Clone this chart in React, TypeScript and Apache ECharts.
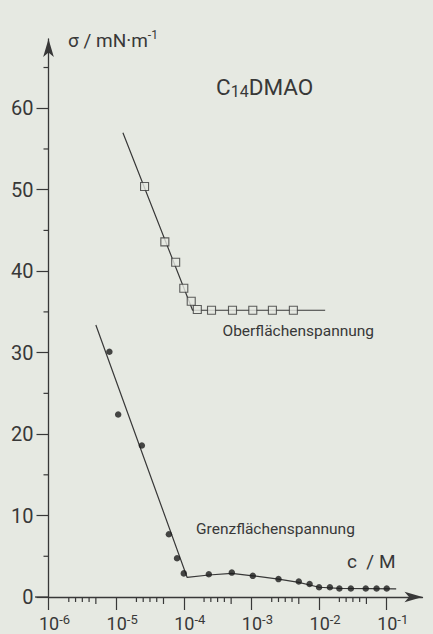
import React, { useEffect, useRef } from 'react';
import * as echarts from 'echarts';

const BG = '#e6e9e2';
const INK = '#383838';
const FONT = 'Roboto, "DejaVu Sans", sans-serif';

// concentration values given as log10(c / M), surface tension sigma in mN/m
const upperLogC = [-4.58, -4.28, -4.12, -4.0, -3.89, -3.8, -3.59, -3.28, -2.98, -2.69, -2.38];
const upperSigma = [50.4, 43.6, 41.1, 37.9, 36.3, 35.3, 35.2, 35.2, 35.2, 35.2, 35.2];
const upperFitLogC = [-4.9, -3.87, -1.91];
const upperFitSigma = [57.0, 35.2, 35.2];

const lowerLogC = [-5.1, -4.97, -4.62, -4.22, -4.1, -4.0, -3.63, -3.29, -2.98, -2.6, -2.3, -2.14, -2.0, -1.84, -1.7, -1.53, -1.31, -1.15, -1.0];
const lowerSigma = [30.1, 22.4, 18.6, 7.7, 4.75, 2.9, 2.8, 3.0, 2.6, 2.2, 1.9, 1.6, 1.2, 1.2, 1.05, 1.05, 1.05, 1.05, 1.05];
const lowerFitLogC = [-5.3, -3.95, -3.63, -3.29, -2.98, -2.6, -2.3, -2.0, -1.7, -0.86];
const lowerFitSigma = [33.4, 2.4, 2.7, 2.9, 2.6, 2.2, 1.8, 1.2, 1.05, 1.0];

const xDecades = [-6, -5, -4, -3, -2, -1];
const xMinorDecades = [-6, -5, -4, -3, -2];
const xMinorFractions = [0.3, 0.4, 0.5, 0.6, 0.7];
const yMajorTicks = [0, 10, 20, 30, 40, 50, 60];
const yMinorTicks = [5, 15, 25, 35, 45, 55, 65];

const Y_MAX = 68.5;
const X_MAX_LOG = -0.471;

export default function App() {
  const ref = useRef<HTMLDivElement>(null);

  useEffect(() => {
    if (!ref.current) return;
    const chart = echarts.init(ref.current, null, { renderer: 'svg' });

    const pts = (lx: number[], ys: number[]) => lx.map((l, i) => [Math.pow(10, l), ys[i]]);

    const tickData: number[][] = [];
    xMinorDecades.forEach((d) => {
      xMinorFractions.forEach((f) => {
        tickData.push([Math.pow(10, d + f), 0, f === 0.7 ? 7 : 5, 0]);
      });
    });
    yMinorTicks.forEach((v) => tickData.push([1e-6, v, 5, 1]));

    const xMajor = xDecades.map((d) => Math.pow(10, d));

    chart.setOption({
      animation: false,
      backgroundColor: BG,
      grid: { left: 48.5, top: 39, right: 10.5, bottom: 37 },
      xAxis: {
        type: 'log',
        logBase: 10,
        min: 1e-6,
        max: Math.pow(10, X_MAX_LOG),
        splitLine: { show: false },
        axisLine: {
          show: true,
          lineStyle: { color: INK, width: 1.3 },
          symbol: ['none', 'arrow'],
          symbolSize: [8, 18],
        },
        axisTick: { show: true, length: 13, lineStyle: { color: INK, width: 1.2 }, customValues: xMajor },
        minorTick: { show: false },
        axisLabel: {
          customValues: xMajor,
          margin: 16,
          padding: [0, 0, 0, 12],
          formatter: (v: number) => `{b|10}{s|${Math.round(Math.log10(v))}}`,
          rich: {
            b: { fontSize: 18, fontFamily: FONT, color: INK, lineHeight: 20 },
            s: { fontSize: 13, fontFamily: FONT, color: INK, lineHeight: 2, verticalAlign: 'top' },
          },
        },
      },
      yAxis: {
        type: 'value',
        min: 0,
        max: Y_MAX,
        splitLine: { show: false },
        axisLine: {
          show: true,
          lineStyle: { color: INK, width: 1.3 },
          symbol: ['none', 'arrow'],
          symbolSize: [8, 18],
        },
        axisTick: { show: true, length: 12, lineStyle: { color: INK, width: 1.2 }, customValues: yMajorTicks },
        axisLabel: {
          customValues: yMajorTicks,
          margin: 15,
          fontSize: 20,
          fontFamily: FONT,
          color: INK,
        },
      },
      graphic: [
        { type: 'line', shape: { x1: 35, y1: 597, x2: 49, y2: 597 }, style: { stroke: INK, lineWidth: 1.3 } },
        {
          type: 'text',
          x: 68,
          y: 29,
          style: {
            text: '{m|σ / mN·m}{s|-1}',
            verticalAlign: 'top',
            rich: {
              m: { fontSize: 19, fontFamily: FONT, fill: INK, lineHeight: 22 },
              s: { fontSize: 12, fontFamily: FONT, fill: INK, lineHeight: 16, verticalAlign: 'top' },
            },
          },
        },
        {
          type: 'text',
          x: 216,
          y: 75.5,
          style: {
            text: '{a|C}{b|14}{a|DMAO}',
            verticalAlign: 'top',
            rich: {
              a: { fontSize: 22.5, fontFamily: FONT, fill: INK, lineHeight: 24, verticalAlign: 'top' },
              b: { fontSize: 16, fontFamily: FONT, fill: INK, lineHeight: 16, verticalAlign: 'bottom' },
            },
          },
        },
        {
          type: 'text',
          x: 347,
          y: 561.5,
          style: { text: 'c  / M', font: `19px ${FONT}`, fill: INK, verticalAlign: 'middle' },
        },
        {
          type: 'text',
          x: 222.5,
          y: 331,
          style: { text: 'Oberflächenspannung', font: `15.5px ${FONT}`, fill: INK, verticalAlign: 'middle' },
        },
        {
          type: 'text',
          x: 196,
          y: 528.5,
          style: { text: 'Grenzflächenspannung', font: `15.5px ${FONT}`, fill: INK, verticalAlign: 'middle' },
        },
      ],
      series: [
        {
          type: 'line',
          data: pts(upperFitLogC, upperFitSigma),
          showSymbol: false,
          lineStyle: { color: INK, width: 1.2 },
          z: 2,
        },
        {
          type: 'line',
          data: pts(lowerFitLogC, lowerFitSigma),
          showSymbol: false,
          lineStyle: { color: INK, width: 1.2 },
          z: 2,
        },
        {
          type: 'scatter',
          data: pts(upperLogC, upperSigma),
          symbol: 'rect',
          symbolSize: 8,
          itemStyle: { color: BG, borderColor: INK, borderWidth: 1.1 },
          z: 3,
        },
        {
          type: 'scatter',
          data: pts(lowerLogC, lowerSigma),
          symbol: 'circle',
          symbolSize: 6.5,
          itemStyle: { color: '#1c1c1c' },
          z: 3,
        },
        {
          type: 'custom',
          clip: false,
          data: tickData,
          renderItem: (params: any, api: any) => {
            const p = api.coord([api.value(0), api.value(1)]);
            const len = api.value(2);
            const dir = api.value(3);
            return {
              type: 'line',
              shape:
                dir === 0
                  ? { x1: p[0], y1: p[1], x2: p[0], y2: p[1] + len }
                  : { x1: p[0] - len, y1: p[1], x2: p[0], y2: p[1] },
              style: { stroke: INK, lineWidth: 1.2 },
            };
          },
          z: 1,
        },
      ],
    });

    return () => chart.dispose();
  }, []);

  return (
    <div
      ref={ref}
      style={{ position: 'fixed', left: 0, top: 0, width: 433, height: 634, background: BG }}
    />
  );
}
